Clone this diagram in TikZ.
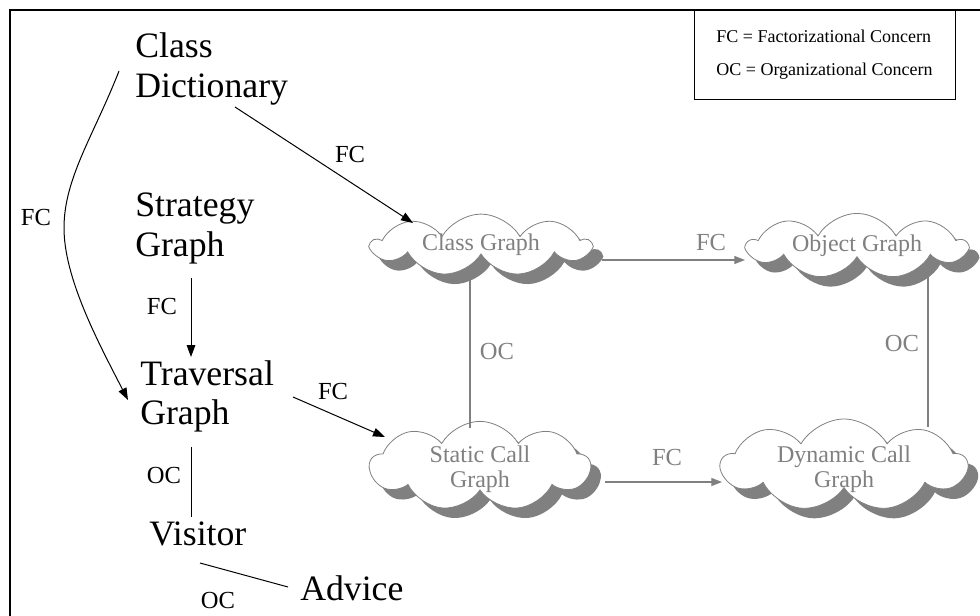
\documentclass[tikz,border=0pt]{standalone}
\usepackage{fontspec}
\setmainfont{Liberation Serif}
\usetikzlibrary{shapes.symbols,shadows,arrows.meta,calc}
\definecolor{sgray}{HTML}{808080}
\newcommand{\cloudtwo}[3]{\raisebox{#1}[0pt][0pt]{\begin{tabular}{@{}c@{}}#2\\#3\end{tabular}}}
\begin{document}
\begin{tikzpicture}[x=0.75pt,y=-0.75pt,
  big/.style={anchor=base west, inner sep=0pt, font=\fontsize{26.8pt}{29.8pt}\selectfont},
  lab/.style={inner sep=0pt, font=\fontsize{18.4pt}{22pt}\selectfont},
  glab/.style={lab, text=sgray},
  cloudnode/.style={cloud, cloud puffs=9, cloud puff arc=120, cloud ignores aspect,
    draw=sgray, line width=0.6pt, fill=white, text=sgray, inner sep=0pt,
    font=\fontsize{18pt}{18.75pt}\selectfont,
    drop shadow={shadow xshift=7.5pt, shadow yshift=-7.5pt, fill=sgray, opacity=1, draw=none}},
  blk/.style={draw=black, line width=0.75pt},
  arr/.style={blk, -{Triangle[length=9pt,width=6.5pt]}},
  gln/.style={draw=sgray, line width=0.9pt},
  garr/.style={gln, -{Triangle[length=8pt,width=6pt]}},
]
\useasboundingbox (0,0) rectangle (980,616);
% outer frame
\draw[line width=1.5pt] (10,616) -- (10,10) -- (980,10);
% legend
\node[draw, line width=0.75pt, minimum width=195.75pt, minimum height=67.5pt, inner sep=0pt,
  align=left, font=\fontsize{13.5pt}{24.75pt}\selectfont] (leg) at (824.5,55)
  {FC = Factorizational Concern\\OC = Organizational Concern};

% left text nodes
\node[big] (cd) at (135,58) {\begin{tabular}[t]{@{}l@{}}Class\\Dictionary\end{tabular}};
\node[big] (sg) at (135,217) {\begin{tabular}[t]{@{}l@{}}Strategy\\Graph\end{tabular}};
\node[big] (tg) at (140,385) {\begin{tabular}[t]{@{}l@{}}Traversal\\Graph\end{tabular}};
\node[big] (vis) at (149,545) {Visitor};
\node[big] (adv) at (300,600) {Advice};

% clouds
\node[cloudnode, minimum width=163.5pt, minimum height=40.5pt] (cg) at (481,245) {Class Graph};
\node[cloudnode, minimum width=164pt, minimum height=43.5pt] (og) at (857,246) {Object Graph};
\node[cloudnode, minimum width=165pt, minimum height=67pt] (scg) at (480,466)
  {\cloudtwo{-7.5pt}{Static Call}{Graph}};
\node[cloudnode, minimum width=184pt, minimum height=69pt] (dcg) at (844,465)
  {\cloudtwo{-8.25pt}{Dynamic Call}{Graph}};

% black connectors
\draw[arr] ($(cd.base west)+(100,49)$) -- ($(cg.center)+(-68,-22)$);
\draw[arr] ($(cd.base west)+(-16,13)$) .. controls (94,135) and (64,178) .. (64,228)
  .. controls (64,278) and (98,342) .. ($(tg.base west)+(-12,15)$);
\draw[arr] ($(sg.base west)+(56,61)$) -- ($(tg.base west)+(51,-28)$);
\draw[arr] ($(tg.base west)+(153,12)$) -- ($(scg.center)+(-95,-29)$);
\draw[blk] ($(tg.base west)+(51,62)$) -- ($(vis.base west)+(42,-28)$);
\draw[blk] ($(vis.base west)+(51,18)$) -- ($(adv.base west)+(-12,-13)$);

% gray connectors
\draw[garr] ($(cg.center)+(121,15)$) -- ($(og.center)+(-112,14)$);
\draw[garr] ($(scg.center)+(125,16)$) -- ($(dcg.center)+(-122,17)$);
\draw[gln] ($(cg.center)+(-11,23)$) -- ($(scg.center)+(-10,-38)$);
\draw[gln] ($(og.center)+(71,29)$) -- ($(dcg.center)+(84,-38)$);

% labels
\node[lab] (fc1) at (36,217) {FC};
\node[lab] (fc2) at (350,155) {FC};
\node[lab] (fc3) at (162,306) {FC};
\node[lab] (fc4) at (333,391) {FC};
\node[lab] (oc1) at (164,475) {OC};
\node[lab] (oc2) at (218,600) {OC};
\node[glab] (fc5) at (711,242) {FC};
\node[glab] (fc6) at (667,457) {FC};
\node[glab] (oc3) at (497,351) {OC};
\node[glab] (oc4) at (902,343) {OC};
\end{tikzpicture}
\end{document}
